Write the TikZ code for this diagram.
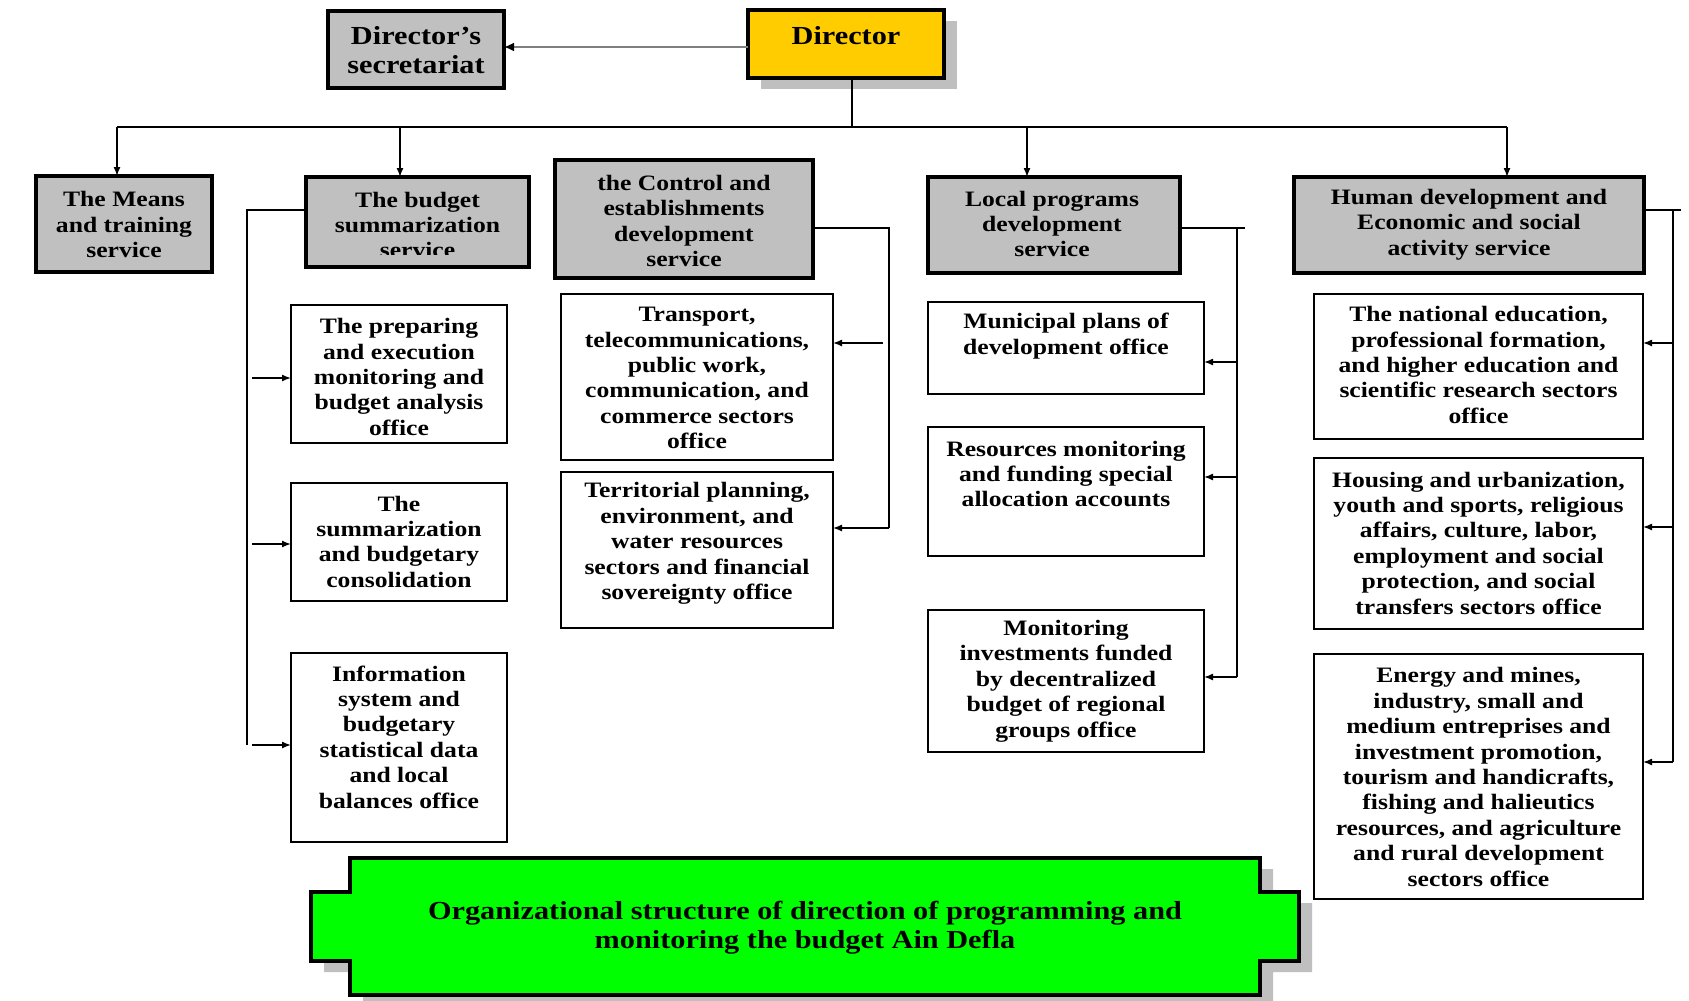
\documentclass[tikz,border=0pt]{standalone}
\usepackage{fontspec}
\newfontfamily\chartfont{Liberation Serif}[FakeStretch=1.165]
\usetikzlibrary{arrows.meta,fit,shadows}
\definecolor{boxgray}{HTML}{C0C0C0}
\definecolor{shadowgray}{HTML}{BFBFBF}
\definecolor{diryellow}{HTML}{FFCC00}
\definecolor{bannergreen}{HTML}{00FF00}
\definecolor{linkgray}{HTML}{7F7F7F}

\begin{document}
\begin{tikzpicture}[x=1pt,y=-1pt,
  boxbase/.style={inner sep=0pt, outer sep=0pt},
  service/.style={boxbase, draw=black, line width=3.5pt, fill=boxgray},
  office/.style={boxbase, draw=black, line width=1.4pt, fill=white},
  txt/.style={inner sep=0pt, align=center, font=\chartfont\bfseries\fontsize{22}{25.4}\selectfont},
  bigtxt/.style={inner sep=0pt, align=center, font=\chartfont\bfseries\fontsize{26}{29}\selectfont},
  link/.style={line width=1.4pt, draw=black},
  feed/.style={link, -{Latex[length=9pt,width=7pt]}},
  boxshadow/.style={drop shadow={shadow xshift=13pt, shadow yshift=-11pt, fill=shadowgray, opacity=1}},
]
\useasboundingbox[fill=white] (0,0) rectangle (1689,1001);

% ---- top level ----
\node[service, boxshadow, fill=diryellow, fit={(748,10) (944,78)}] (dir) {};
\node[bigtxt] (tDir) at (846,36) {Director};
\node[service, fit={(328,11) (504,88)}] (sec) {};
\node[bigtxt] (tSec) at (416,50.5) {Director’s\\secretariat};

% ---- services ----
\node[service, fit={(36,176) (212,272)}] (sMeans) {};
\node[txt] (tMeans) at (124,224.6) {The Means\\and training\\service};
\node[service, fit={(306,177) (529,267)}] (sBud) {};
% the last line of this label is cut short by its text frame
\begin{scope}
  \clip (306,177) rectangle (529,254.5);
  \node[txt] (tBud) at (417.5,225) {The budget\\summarization\\service};
\end{scope}
\node[service, fit={(555,160) (813,278)}] (sCtl) {};
\node[txt] (tCtl) at (684,221) {the Control and\\establishments\\development\\service};
\node[service, fit={(928,177) (1180,273)}] (sLoc) {};
\node[txt] (tLoc) at (1052,224) {Local programs\\development\\service};
\node[service, fit={(1294,177) (1644,273)}] (sHum) {};
\node[txt] (tHum) at (1469,224.6) {Human development and\\Economic and social\\activity service};

% ---- budget summarization offices ----
\node[office, fit={(291,305) (507,443)}] (B1) {};
\node[txt] (tB1) at (399,377) {The preparing\\and execution\\monitoring and\\budget analysis\\office};
\node[office, fit={(291,483) (507,601)}] (B2) {};
\node[txt] (tB2) at (399,541.6) {The\\summarization\\and budgetary\\consolidation};
\node[office, fit={(291,653) (507,842)}] (B3) {};
\node[txt] (tB3) at (399,737) {Information\\system and\\budgetary\\statistical data\\and local\\balances office};

% ---- control offices ----
\node[office, fit={(561,294) (833,460)}] (C1) {};
\node[txt] (tC1) at (697,378) {Transport,\\telecommunications,\\public work,\\communication, and\\commerce sectors\\office};
\node[office, fit={(561,472) (833,628)}] (C2) {};
\node[txt] (tC2) at (697,543.4) {Territorial planning,\\environment, and\\water resources\\sectors and financial\\sovereignty office};

% ---- local programs offices ----
\node[office, fit={(928,302) (1204,394)}] (L1) {};
\node[txt] (tL1) at (1066,336) {Municipal plans of\\development office};
\node[office, fit={(928,427) (1204,556)}] (L2) {};
\node[txt] (tL2) at (1066,474) {Resources monitoring\\and funding special\\allocation accounts};
\node[office, fit={(928,610) (1204,752)}] (L3) {};
\node[txt] (tL3) at (1066,681) {Monitoring\\investments funded\\by decentralized\\budget of regional\\groups office};

% ---- human development offices ----
\node[office, fit={(1314,294) (1643,439)}] (H1) {};
\node[txt] (tH1) at (1478.5,365) {The national education,\\professional formation,\\and higher education and\\scientific research sectors\\office};
\node[office, fit={(1314,458) (1643,629)}] (H2) {};
\node[txt] (tH2) at (1478.5,543) {Housing and urbanization,\\youth and sports, religious\\affairs, culture, labor,\\employment and social\\protection, and social\\transfers sectors office};
\node[office, fit={(1314,654) (1643,899)}] (H3) {};
\node[txt] (tH3) at (1478.5,777) {Energy and mines,\\industry, small and\\medium entreprises and\\investment promotion,\\tourism and handicrafts,\\fishing and halieutics\\resources, and agriculture\\and rural development\\sectors office};

% ---- director links ----
\path (dir.west) ++(0,3) coordinate (dirOut);
\draw[line width=2.6pt, draw=linkgray, -{Latex[length=10pt,width=9pt,color=black]}] (dirOut) -- (dirOut -| sec.east);

\coordinate (bus) at (852,127);
\coordinate (busL) at (117,127);
\coordinate (busB) at (400,127);
\coordinate (busLo) at (1027,127);
\coordinate (busR) at (1507,127);
\draw[link] (bus |- dir.south) -- (bus);
\draw[link] (busL) -- (busR);
\draw[feed] (busL) -- (busL |- sMeans.north);
\draw[feed] (busB) -- (busB |- sBud.north);
\draw[feed] (busLo) -- (busLo |- sLoc.north);
\draw[feed] (busR) -- (busR |- sHum.north);

% ---- budget branch ----
\coordinate (bTop) at (247,210);
\coordinate (bBot) at (247,745);
\draw[link] (bTop -| sBud.west) -- (bTop) -- (bBot);
\coordinate (bA) at (252,378);
\coordinate (bB) at (252,544);
\coordinate (bC) at (252,745);
\draw[feed] (bA) -- (bA -| B1.west);
\draw[feed] (bB) -- (bB -| B2.west);
\draw[feed] (bC) -- (bC -| B3.west);

% ---- control branch ----
\coordinate (cTop) at (889,228);
\coordinate (cBot) at (889,528);
\draw[link] (cTop -| sCtl.east) -- (cTop) -- (cBot);
\coordinate (cA) at (883,343);
\draw[feed] (cA) -- (cA -| C1.east);
\draw[feed] (cBot) -- (cBot -| C2.east);

% ---- local programs branch ----
\coordinate (lOver) at (1245,228);
\coordinate (lTop) at (1237,228);
\coordinate (lBot) at (1237,677);
\draw[link] (lOver -| sLoc.east) -- (lOver);
\draw[link] (lTop) -- (lBot);
\coordinate (lA) at (1237,362);
\coordinate (lB) at (1237,477);
\draw[feed] (lA) -- (lA -| L1.east);
\draw[feed] (lB) -- (lB -| L2.east);
\draw[feed] (lBot) -- (lBot -| L3.east);

% ---- human development branch ----
\coordinate (hOver) at (1681,210);
\coordinate (hTop) at (1673,210);
\coordinate (hBot) at (1673,762);
\draw[link] (hOver -| sHum.east) -- (hOver);
\draw[link] (hTop) -- (hBot);
\coordinate (hA) at (1673,343);
\coordinate (hB) at (1673,527);
\draw[feed] (hA) -- (hA -| H1.east);
\draw[feed] (hB) -- (hB -| H2.east);
\draw[feed] (hBot) -- (hBot -| H3.east);

% ---- title banner ----
\def\bannerpath{(350,858) -- (1260,858) -- (1260,892) -- (1299,892) -- (1299,961) -- (1260,961) -- (1260,995) -- (350,995) -- (350,961) -- (311,961) -- (311,892) -- (350,892) -- cycle}
\fill[shadowgray, shift={(13,11)}] \bannerpath;
\draw[fill=bannergreen, line width=4pt, line join=miter] \bannerpath;
\node[bigtxt] (title) at (805,928) {Organizational structure of direction of programming and\\monitoring the budget Ain Defla};
\end{tikzpicture}
\end{document}
